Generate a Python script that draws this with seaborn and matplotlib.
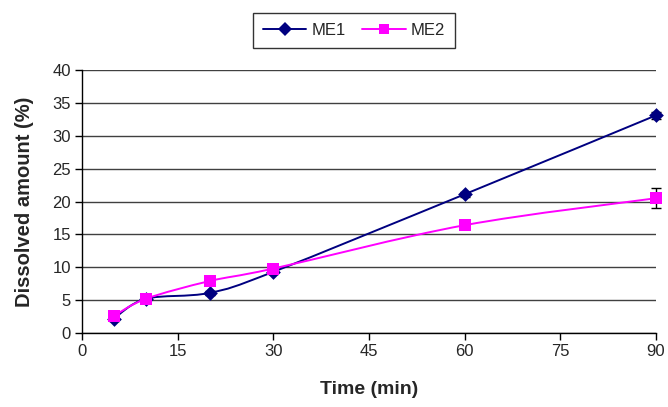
import numpy as np
import pandas as pd
import seaborn as sns
import matplotlib
matplotlib.use("Agg")
import matplotlib.pyplot as plt
from matplotlib.path import Path
from matplotlib.patches import PathPatch
from matplotlib.lines import Line2D

time = [5, 10, 20, 30, 60, 90]
me1 = [2.2, 5.2, 6.1, 9.3, 21.1, 33.1]
me2 = [2.6, 5.2, 7.9, 9.8, 16.4, 20.5]
me1_err = [0.3, 0.3, 0.3, 0.3, 0.4, 0.5]
me2_err = [0.3, 0.3, 0.3, 0.3, 0.3, 1.5]
xticks = [0, 15, 30, 45, 60, 75, 90]
yticks = [0, 5, 10, 15, 20, 25, 30, 35, 40]

df = pd.DataFrame({"Time": time * 2, "Value": me1 + me2,
                   "Series": ["ME1"] * len(time) + ["ME2"] * len(time)})

sns.set_theme(style="white")
plt.rcParams["font.family"] = ["Liberation Sans", "DejaVu Sans"]

fig = plt.figure(figsize=(6.68, 4.07), dpi=100)
ax = fig.add_axes([0.1228, 0.1818, 0.8592, 0.6462])

colors = {"ME1": "#000080", "ME2": "#FF00FF"}
markers = {"ME1": "D", "ME2": "s"}


def smooth_path(xs, ys):
    xs = np.asarray(xs, float)
    ys = np.asarray(ys, float)
    verts = [(xs[0], ys[0])]
    codes = [Path.MOVETO]
    n = len(xs)
    for i in range(n - 1):
        p0 = (xs[max(i - 1, 0)], ys[max(i - 1, 0)])
        p1 = (xs[i], ys[i])
        p2 = (xs[i + 1], ys[i + 1])
        p3 = (xs[min(i + 2, n - 1)], ys[min(i + 2, n - 1)])
        c1 = (p1[0] + (p2[0] - p0[0]) / 6, p1[1] + (p2[1] - p0[1]) / 6)
        c2 = (p2[0] - (p3[0] - p1[0]) / 6, p2[1] - (p3[1] - p1[1]) / 6)
        verts += [c1, c2, p2]
        codes += [Path.CURVE4] * 3
    return Path(verts, codes)


for name, vals, errs in [("ME1", me1, me1_err), ("ME2", me2, me2_err)]:
    ax.add_patch(PathPatch(smooth_path(time, vals), fill=False,
                           edgecolor=colors[name], lw=1.4, zorder=3))
    eb = ax.errorbar(time, vals, yerr=errs, fmt="none", ecolor="black",
                     elinewidth=1, capsize=3.5, capthick=1, zorder=4)
    for art in eb.lines[1] + eb.lines[2]:
        art.set_clip_on(False)

sizes = {"ME1": 7.5, "ME2": 8}
for name in ["ME1", "ME2"]:
    sub = df[df["Series"] == name]
    sns.scatterplot(data=sub, x="Time", y="Value", color=colors[name],
                    marker=markers[name], s=(sizes[name]) ** 2, linewidth=0,
                    ax=ax, legend=False, zorder=5, clip_on=False)

ax.set_xlim(0, 90)
ax.set_ylim(0, 40)
ax.set_xticks(xticks)
ax.set_yticks(yticks)
ax.yaxis.grid(True, color="#404040", lw=1)
ax.xaxis.grid(False)
ax.set_axisbelow(True)
for s in ["top", "right"]:
    ax.spines[s].set_visible(False)
for s in ["left", "bottom"]:
    ax.spines[s].set_color("black")
    ax.spines[s].set_linewidth(1)
ax.tick_params(axis="both", direction="out", length=5, width=1, color="black",
               labelsize=12, bottom=True, left=True, pad=3)
ax.set_xlabel("Time (min)", fontsize=14, fontweight="bold", labelpad=16)
ax.set_ylabel("Dissolved amount (%)", fontsize=14.5, fontweight="bold", labelpad=13)

handles = [Line2D([], [], color=colors[n], marker=markers[n], markersize=7,
                  lw=1.4, markeredgewidth=0, label=n) for n in ["ME1", "ME2"]]
leg = fig.legend(handles=handles, loc="center", bbox_to_anchor=(0.53, 0.926),
                 ncol=2, frameon=True, fancybox=False, fontsize=12,
                 handlelength=2.6, handletextpad=0.3, columnspacing=1.0,
                 borderpad=0.6)
leg.get_frame().set_edgecolor("black")
leg.get_frame().set_linewidth(1)

fig.savefig("out.png", dpi=100)
